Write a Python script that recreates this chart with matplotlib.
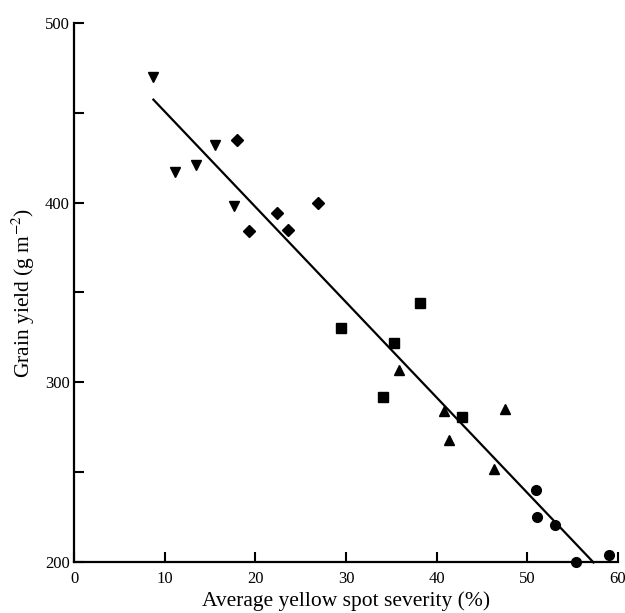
import matplotlib
matplotlib.use("Agg")
import matplotlib.pyplot as plt
import numpy as np

plt.rcParams['font.family'] = ['Liberation Serif', 'DejaVu Serif']
plt.rcParams['mathtext.fontset'] = 'stix'

# Data (x = average yellow spot severity %, y = grain yield g m-2)
tri_down_x = [8.7, 11.1, 13.5, 15.5, 17.6]
tri_down_y = [470, 417, 421, 432, 398]

diamond_x = [18.0, 19.3, 22.4, 23.6, 26.9]
diamond_y = [435, 384, 394, 385, 400]

square_x = [29.5, 34.1, 35.3, 38.2, 42.8]
square_y = [330, 292, 322, 344, 281]

tri_up_x = [35.8, 40.8, 41.4, 46.3, 47.5]
tri_up_y = [307, 284, 268, 252, 285]

circle_x = [51.0, 51.1, 53.0, 55.4, 59.0]
circle_y = [240, 225, 221, 200, 204]

# fitted regression line (intercept, slope) and its x-extent
fit_intercept = 503.6
fit_slope = -5.30
fit_x = [8.75, 57.3]

x_ticks = [0, 10, 20, 30, 40, 50, 60]
y_major = [200, 300, 400, 500]
y_minor = [250, 350, 450]

fig = plt.figure(figsize=(6.25, 6.13), dpi=100)
ax = fig.add_axes([0.1185, 0.0827, 0.8703, 0.8803])

ms_kw = dict(color='black', linestyle='none', clip_on=False)
ax.plot(tri_down_x, tri_down_y, marker='v', markersize=7, **ms_kw)
ax.plot(diamond_x, diamond_y, marker='D', markersize=6, **ms_kw)
ax.plot(square_x, square_y, marker='s', markersize=6.5, **ms_kw)
ax.plot(tri_up_x, tri_up_y, marker='^', markersize=7, **ms_kw)
ax.plot(circle_x, circle_y, marker='o', markersize=7, **ms_kw)

fx = np.array(fit_x)
ax.plot(fx, fit_intercept + fit_slope * fx, color='black', linewidth=1.6, clip_on=False)

ax.set_xlim(0, 60)
ax.set_ylim(200, 500)
ax.set_xticks(x_ticks)
ax.set_yticks(y_major)
ax.set_yticks(y_minor, minor=True)

for s in ['top', 'right']:
    ax.spines[s].set_visible(False)
for s in ['left', 'bottom']:
    ax.spines[s].set_linewidth(1.6)

ax.tick_params(axis='both', which='both', direction='in', width=1.5, length=7,
               labelsize=12, color='black')
ax.tick_params(axis='x', pad=6)
ax.tick_params(axis='y', pad=3)

ax.set_xlabel('Average yellow spot severity (%)', fontsize=15.5, labelpad=3)
ax.set_ylabel('Grain yield (g m$^{-2}$)', fontsize=15.5, labelpad=6)

fig.savefig('out.png', dpi=100)
